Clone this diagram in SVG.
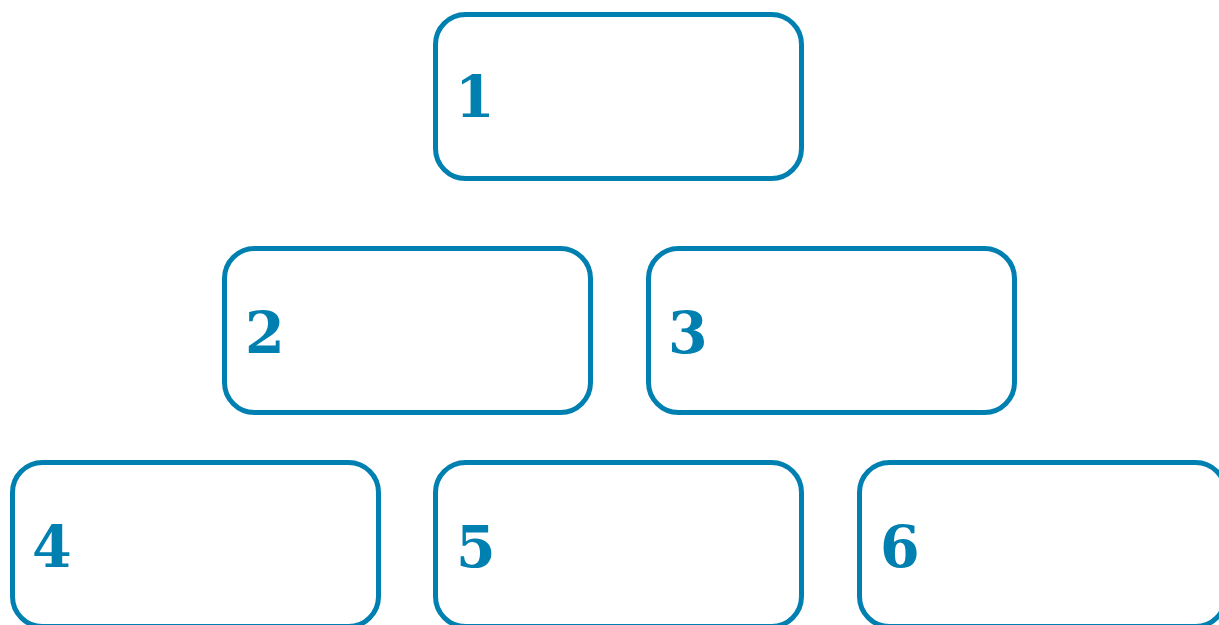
<svg xmlns="http://www.w3.org/2000/svg" width="1219" height="625" viewBox="0 0 1219 625">
<style>
.box{fill:#ffffff;stroke:#0080B0;stroke-width:5}
.num{font-family:"DejaVu Serif","Liberation Serif",serif;font-weight:bold;font-size:57px;fill:#0080B0}
</style>
<rect width="1219" height="625" fill="#ffffff"/>
<g id="connectors"></g>
<g id="node1"><rect class="box" x="435.5" y="14.5" width="366" height="164" rx="30"/><text class="num" x="455" y="117">1</text></g>
<g id="node2"><rect class="box" x="224.5" y="248.5" width="366" height="164" rx="30"/><text class="num" x="245" y="353">2</text></g>
<g id="node3"><rect class="box" x="648.5" y="248.5" width="366" height="164" rx="30"/><text class="num" x="668" y="353">3</text></g>
<g id="node4"><rect class="box" x="12.5" y="462.5" width="366" height="164" rx="30"/><text class="num" x="32" y="567">4</text></g>
<g id="node5"><rect class="box" x="435.5" y="462.5" width="366" height="164" rx="30"/><text class="num" x="456" y="567">5</text></g>
<g id="node6"><rect class="box" x="859.5" y="462.5" width="366" height="164" rx="30"/><text class="num" x="880" y="567">6</text></g>
</svg>
